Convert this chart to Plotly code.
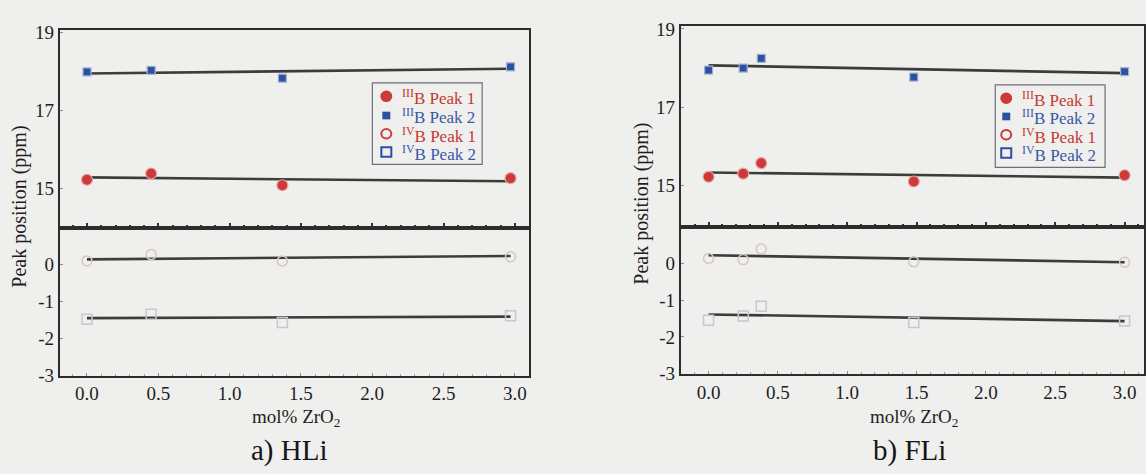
import plotly.graph_objects as go

# ---- HLi series (mol% ZrO2 vs peak position, ppm) ----
hli_x = [0.0, 0.45, 1.37, 2.97]
hli_b3_p1 = [15.22, 15.38, 15.08, 15.26]
hli_b3_p2 = [17.98, 18.02, 17.82, 18.11]
hli_b4_p1 = [0.09, 0.26, 0.09, 0.20]
hli_b4_p2 = [-1.48, -1.35, -1.57, -1.39]
# linear fits: value at the first and last composition
hli_fit_x = [0.0, 2.97]
hli_fit_b3_p1 = [15.28, 15.18]
hli_fit_b3_p2 = [17.94, 18.06]
hli_fit_b4_p1 = [0.13, 0.22]
hli_fit_b4_p2 = [-1.45, -1.41]

# ---- FLi series ----
fli_x = [0.0, 0.25, 0.38, 1.48, 3.00]
fli_b3_p1 = [15.22, 15.30, 15.57, 15.10, 15.26]
fli_b3_p2 = [17.95, 18.00, 18.25, 17.77, 17.91]
fli_b4_p1 = [0.13, 0.10, 0.39, 0.04, 0.03]
fli_b4_p2 = [-1.55, -1.43, -1.17, -1.61, -1.57]
fli_fit_x = [0.0, 3.0]
fli_fit_b3_p1 = [15.33, 15.20]
fli_fit_b3_p2 = [18.07, 17.87]
fli_fit_b4_p1 = [0.22, 0.03]
fli_fit_b4_p2 = [-1.39, -1.57]

x_ticks = [0.0, 0.5, 1.0, 1.5, 2.0, 2.5, 3.0]
x_tick_text = ["0.0", "0.5", "1.0", "1.5", "2.0", "2.5", "3.0"]
y_top_ticks = [15, 17, 19]
y_top_text = ["15", "17", "19"]
y_bot_ticks = [0, -1, -2, -3]
y_bot_text = ["0", "-1", "-2", "-3"]

legend_labels = ["<sup>III</sup>B Peak 1", "<sup>III</sup>B Peak 2",
                 "<sup>IV</sup>B Peak 1", "<sup>IV</sup>B Peak 2"]

RED = "#cd3a3b"
BLUE = "#2c50a2"
TXT_RED = "#c23a30"
TXT_BLUE = "#3a58a6"
FAINT_RED = "#d9c4c4"
FAINT_BLUE = "#c6c8cf"
FIT = "#393e3a"
BG = "#efefed"
AXIS = "#2b2d2b"
FONT = "'Liberation Serif', 'Times New Roman', 'DejaVu Serif', serif"
W, H = 1146, 474


def px(v):
    return v / W


def py(v):
    return 1 - v / H


fig = go.Figure()


def add_panel(xs, p1, p2, q1, q2, fx, f1, f2, g1, g2, xref, top, bot):
    for ys, yref in ((f1, top), (f2, top), (g1, bot), (g2, bot)):
        fig.add_trace(go.Scatter(x=fx, y=ys, mode="lines", xaxis=xref, yaxis=yref,
                                 line=dict(color=FIT, width=2.6), showlegend=False,
                                 hoverinfo="skip"))
    # trigonal boron
    fig.add_trace(go.Scatter(x=xs, y=p1, mode="markers", xaxis=xref, yaxis=top,
                             marker=dict(symbol="circle", size=11, color=RED,
                                         line=dict(color="#eaa6a6", width=1.2)),
                             showlegend=False))
    fig.add_trace(go.Scatter(x=xs, y=p2, mode="markers", xaxis=xref, yaxis=top,
                             marker=dict(symbol="square", size=8, color=BLUE,
                                         line=dict(color="#a3b2d6", width=1.2)),
                             showlegend=False))
    # tetrahedral boron
    fig.add_trace(go.Scatter(x=xs, y=q1, mode="markers", xaxis=xref, yaxis=bot,
                             marker=dict(symbol="circle-open", size=10, color=FAINT_RED,
                                         line=dict(width=1.5)),
                             showlegend=False))
    fig.add_trace(go.Scatter(x=xs, y=q2, mode="markers", xaxis=xref, yaxis=bot,
                             marker=dict(symbol="square-open", size=10, color=FAINT_BLUE,
                                         line=dict(width=1.5)),
                             showlegend=False))


add_panel(hli_x, hli_b3_p1, hli_b3_p2, hli_b4_p1, hli_b4_p2,
          hli_fit_x, hli_fit_b3_p1, hli_fit_b3_p2, hli_fit_b4_p1, hli_fit_b4_p2,
          "x", "y", "y2")
add_panel(fli_x, fli_b3_p1, fli_b3_p2, fli_b4_p1, fli_b4_p2,
          fli_fit_x, fli_fit_b3_p1, fli_fit_b3_p2, fli_fit_b4_p1, fli_fit_b4_p2,
          "x2", "y3", "y4")
# activate the axes that draw the break line
fig.add_trace(go.Scatter(x=[None], y=[None], xaxis="x3", yaxis="y", showlegend=False))
fig.add_trace(go.Scatter(x=[None], y=[None], xaxis="x4", yaxis="y3", showlegend=False))

tick_font = dict(family=FONT, size=19, color="#1e1e1e")
frame = dict(showline=True, linecolor=AXIS, linewidth=2, mirror=True,
             showgrid=False, zeroline=False, ticks="inside", ticklen=3,
             tickcolor="#8a8a8a", tickwidth=1)
faint_minor = dict(dtick=0.1, ticks="inside", ticklen=2, tickcolor="#a0a0a0")
break_minor = dict(dtick=0.1, ticks="inside", ticklen=3, tickcolor="#333", tickwidth=1.5)

A_L, A_R, A_T, A_B, A_BRK = 60, 530, 23, 383, 229
B_L, B_R, B_T, B_B, B_BRK = 682, 1146, 19, 381, 228
A_XR = [-0.19, 3.10]
B_XR = [-0.20, 3.14]

fig.update_layout(
    xaxis=dict(domain=[px(A_L), px(A_R)], range=A_XR, anchor="y2",
               tickvals=x_ticks, ticktext=x_tick_text, tickfont=tick_font,
               minor=faint_minor, **frame),
    yaxis=dict(domain=[py(A_BRK), py(A_T)], range=[13.99, 19.05], anchor="x",
               tickvals=y_top_ticks, ticktext=y_top_text, tickfont=tick_font, **frame),
    yaxis2=dict(domain=[py(A_B), py(A_BRK)], range=[-3.0, 0.98], anchor="x",
                tickvals=y_bot_ticks, ticktext=y_bot_text, tickfont=tick_font, **frame),
    xaxis3=dict(domain=[px(A_L), px(A_R)], range=A_XR, anchor="y", overlaying="x",
                showticklabels=False, tickvals=x_ticks, minor=break_minor,
                **{**frame, "ticklen": 5, "tickcolor": "#333", "tickwidth": 1.5}),
    xaxis2=dict(domain=[px(B_L), px(B_R)], range=B_XR, anchor="y4",
                tickvals=x_ticks, ticktext=x_tick_text, tickfont=tick_font,
                minor=faint_minor, **frame),
    yaxis3=dict(domain=[py(B_BRK), py(B_T)], range=[13.94, 19.07], anchor="x2",
                tickvals=y_top_ticks, ticktext=y_top_text, tickfont=tick_font, **frame),
    yaxis4=dict(domain=[py(B_B), py(B_BRK)], range=[-3.0, 0.99], anchor="x2",
                tickvals=y_bot_ticks, ticktext=y_bot_text, tickfont=tick_font, **frame),
    xaxis4=dict(domain=[px(B_L), px(B_R)], range=B_XR, anchor="y3", overlaying="x2",
                showticklabels=False, tickvals=x_ticks, minor=break_minor,
                **{**frame, "ticklen": 5, "tickcolor": "#333", "tickwidth": 1.5}),
)

shapes = []
annotations = []


def legend_block(left, top, right, bottom, rows, mx, tx):
    shapes.append(dict(type="rect", xref="paper", yref="paper",
                       x0=px(left), x1=px(right), y0=py(bottom), y1=py(top),
                       line=dict(color="#6b6f7a", width=1.2), fillcolor=BG, layer="above"))
    styles = [("circle", RED, True, 6.0), ("rect", BLUE, True, 4.0),
              ("circle", RED, False, 5.0), ("rect", BLUE, False, 5.0)]
    for (kind, col, filled, r), ry, label in zip(styles, rows, legend_labels):
        shapes.append(dict(type=kind, xref="paper", yref="paper",
                           x0=px(mx - r), x1=px(mx + r), y0=py(ry + r), y1=py(ry - r),
                           line=dict(color=col, width=0 if filled else 2),
                           fillcolor=col if filled else "rgba(0,0,0,0)", layer="above"))
        annotations.append(dict(x=px(tx), y=py(ry + 1), xref="paper", yref="paper",
                                xanchor="left", yanchor="middle", showarrow=False,
                                text=label,
                                font=dict(family=FONT, size=17,
                                          color=TXT_RED if col == RED else TXT_BLUE)))


legend_block(373, 78, 483, 163, [92, 112, 131, 150], 387, 401)
legend_block(997, 80, 1107, 166, [94, 113, 132, 151], 1008, 1022)

label_font = dict(family=FONT, size=19, color="#1e1e1e")
for cx in (297, 916):
    annotations.append(dict(x=px(cx), y=py(427), xref="paper", yref="paper",
                            xanchor="center", yanchor="middle",
                            text="mol% ZrO<sub>2</sub>", showarrow=False, font=label_font))
for cx, cy in ((20, 207), (643, 204)):
    annotations.append(dict(x=px(cx), y=py(cy), xref="paper", yref="paper",
                            xanchor="center", yanchor="middle",
                            text="Peak position (ppm)", textangle=-90,
                            showarrow=False, font=dict(family=FONT, size=20, color="#1e1e1e")))
for cx, txt in ((290, "a) HLi"), (911, "b) FLi")):
    annotations.append(dict(x=px(cx), y=py(461), xref="paper", yref="paper",
                            xanchor="center", yanchor="middle", text=txt,
                            showarrow=False,
                            font=dict(family=FONT, size=29, color="#161616")))

fig.update_layout(
    width=W, height=H, margin=dict(l=0, r=0, t=0, b=0),
    paper_bgcolor=BG, plot_bgcolor=BG, showlegend=False,
    shapes=shapes, annotations=annotations, font=dict(family=FONT),
)

fig.write_html("out.html")
